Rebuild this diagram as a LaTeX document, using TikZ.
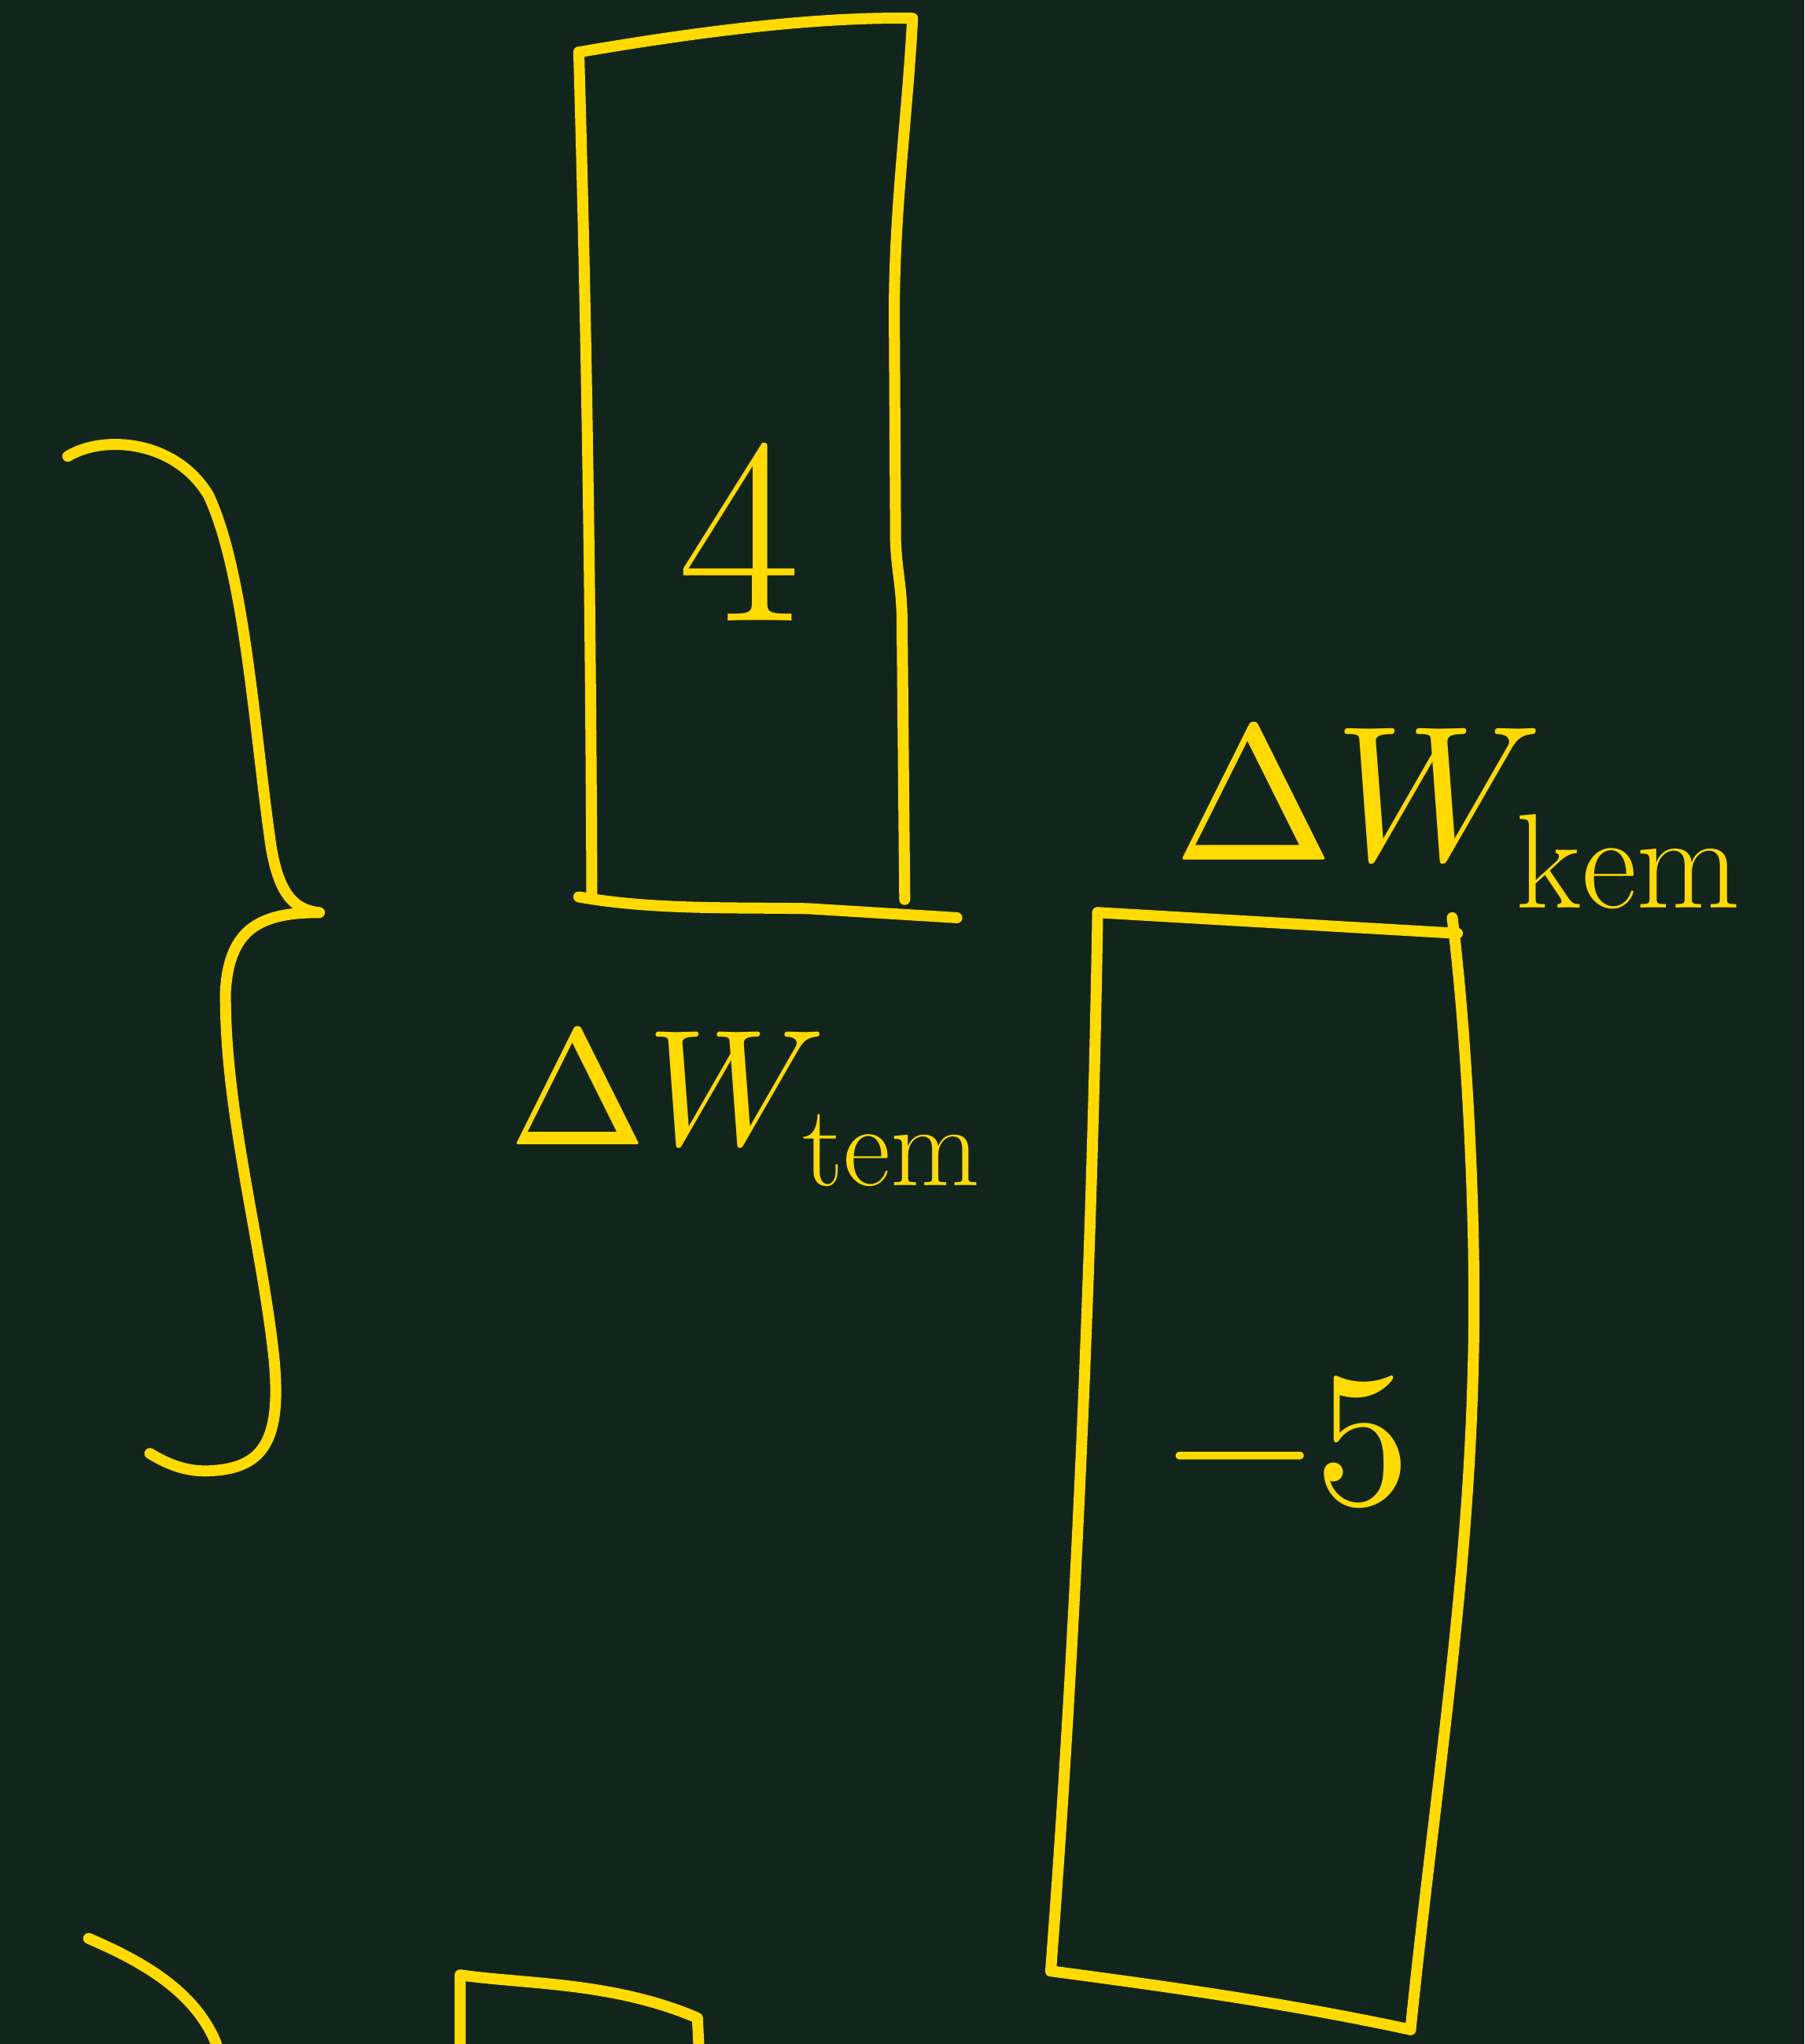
\documentclass[tikz,border=0pt]{standalone}
\usepackage{amsmath,amssymb}
\usepackage{unicode-math}
\usepackage{xcolor}
\usepackage{tikz}
\usetikzlibrary{positioning}

\definecolor{board}{HTML}{12251D}
\definecolor{chalk}{HTML}{FFDA00}

\begin{document}
\begin{tikzpicture}[x=0.01cm, y=-0.01cm,
  ink/.style={draw=chalk, line width=2.4pt, line cap=round, line join=round},
  bignum/.style={text=chalk, inner sep=0pt, font=\fontsize{58}{60}\selectfont},
  dlabel/.style={text=chalk, inner sep=0pt, anchor=base west, font=\fontsize{36}{40}\selectfont}]

  \fill[board] (0,0) rectangle (1384,1568);
  \useasboundingbox (0,0) rectangle (1384,1568);

  % brace on the left
  \draw[ink] (52,350) .. controls (80,333) and (135,338) .. (160,380)
    .. controls (188,440) and (195,560) .. (208,650)
    .. controls (214,685) and (225,698) .. (245,700)
    .. controls (200,700) and (176,712) .. (173,760)
    .. controls (172,850) and (200,950) .. (210,1040)
    .. controls (216,1100) and (205,1125) .. (165,1128)
    .. controls (145,1130) and (130,1124) .. (115,1115);

  % upper box
  \draw[ink] (444,40) .. controls (560,20) and (640,13) .. (700,14)
    .. controls (696,90) and (686,160) .. (686,240) -- (687,415)
    .. controls (688,440) and (692,450) .. (692,480) -- (694,690);
  \draw[ink] (444,40) .. controls (450,250) and (453,450) .. (454,688);
  \draw[ink] (444,688) .. controls (500,698) and (560,696) .. (620,697) -- (734,704);

  % lower box
  \draw[ink] (842,700) -- (1118,716);
  \draw[ink] (1114,704) .. controls (1126,800) and (1133,950) .. (1130,1050)
    .. controls (1126,1220) and (1100,1380) .. (1082,1557);
  \draw[ink] (842,700) .. controls (838,950) and (826,1250) .. (806,1512);
  \draw[ink] (806,1512) .. controls (880,1522) and (980,1535) .. (1082,1557);

  % bits cut off at the bottom
  \draw[ink] (68,1487) .. controls (110,1505) and (150,1528) .. (166,1568);
  \draw[ink] (353,1568) -- (353,1515) .. controls (400,1522) and (470,1520) .. (535,1548) -- (536,1568);

  \node (four) [bignum] at (567,408) {4};
  \node (minfive) [bignum, font=\fontsize{42}{46}\selectfont] at (988,1106) {$-5$};
  \node (dwtem) [dlabel] at (390,878) {$\Delta W_{\mathrm{tem}}$};
  \node (dwkem) [dlabel, font=\fontsize{42}{46}\selectfont] at (900,660) {$\Delta W_{\mathrm{kem}}$};
\end{tikzpicture}
\end{document}
